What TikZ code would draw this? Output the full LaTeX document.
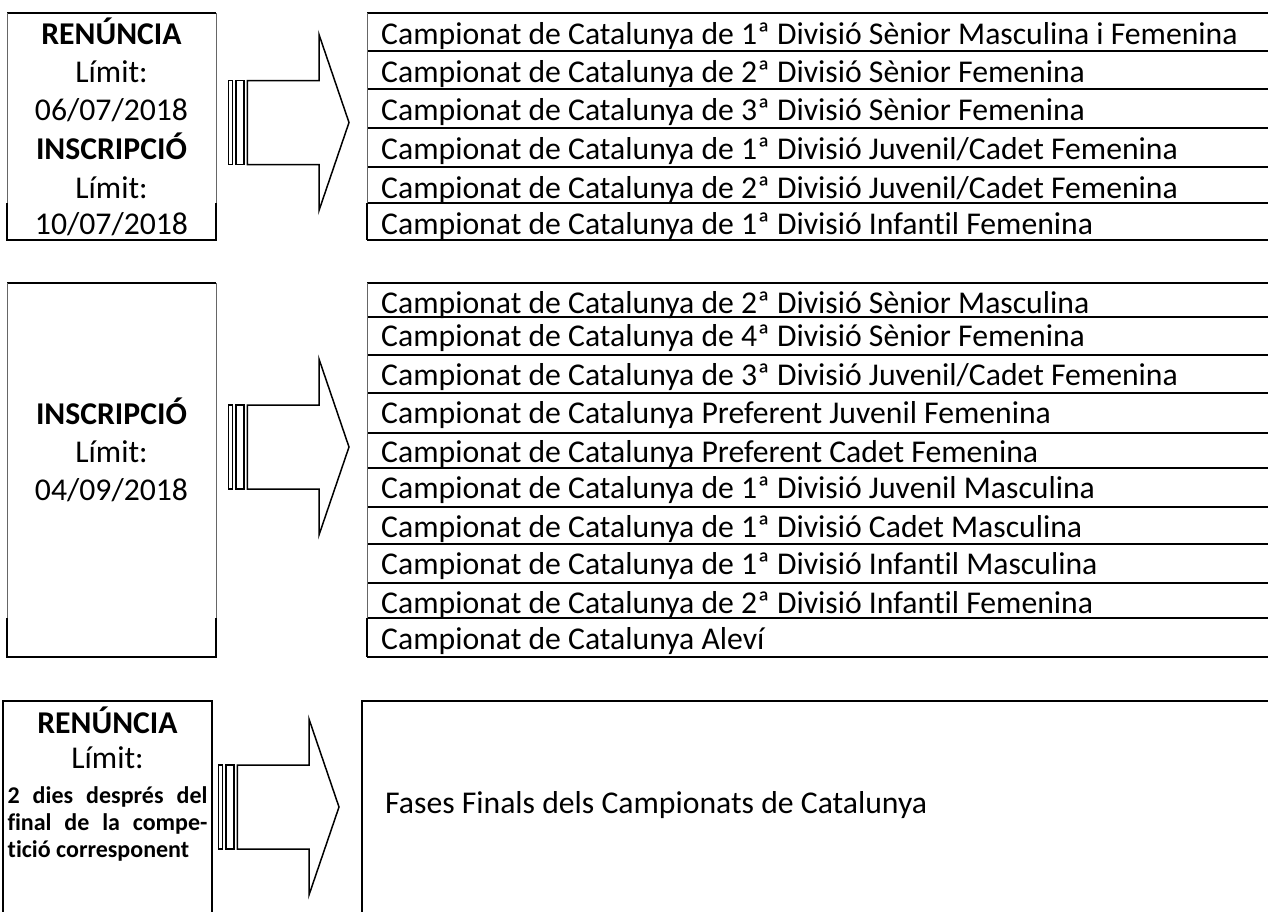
\documentclass[tikz,border=0pt]{standalone}
\usepackage{fontspec}
\setmainfont{Carlito}[Ligatures=NoCommon]

\newcommand{\rowfont}{\fontsize{31.7}{38}\selectfont}
\newcommand{\notefont}{\fontsize{24}{27}\selectfont\bfseries}

\tikzset{
	rowline/.style={line width=2.2pt},
	faint/.style={line width=1pt,black!60},
	shaft/.style={line width=1.5pt,line join=miter},
	entry/.style={anchor=base west,inner sep=0pt,font=\rowfont},
	lbl/.style={anchor=base,inner sep=0pt,font=\rowfont},
	lblbold/.style={lbl,font=\rowfont\bfseries},
	note/.style={anchor=base,inner sep=0pt,font=\notefont}
}

% striped arrow: #1 = left edge of the first stripe, #2 = height of its axis
\newcommand{\stripedarrow}[2]{%
	\begin{scope}[shift={(#1,#2)}]
		\draw[shaft] (0,-42) rectangle (4.4,42);
		\draw[shaft] (7.7,-42) rectangle (15.7,42);
		\draw[shaft] (19,-42) -- (90.7,-42) -- (90.7,-88) -- (120.7,0) -- (90.7,88) -- (90.7,42) -- (19,42) -- cycle;
	\end{scope}}

\begin{document}
\begin{tikzpicture}[x=1pt,y=-1pt]
			\useasboundingbox (0,0) rectangle (1268,911);

			% first block
			\draw[rowline] (7,13) -- (216,13);
			\draw[faint] (7,13) -- (7,203) (216,13) -- (216,203);
			\draw[rowline] (7,203) -- (7,240) -- (216,240) -- (216,203);
			\node[lblbold] (renA) at (111.5,44) {RENÚNCIA};
			\node[lbl] (limA1) at (111.5,82) {Límit:};
			\node[lbl] (dateA1) at (111.5,120) {06/07/2018};
			\node[lblbold] (insA) at (111.5,159) {INSCRIPCIÓ};
			\node[lbl] (limA2) at (111.5,198) {Límit:};
			\node[lbl] (dateA2) at (111.5,234) {10/07/2018};

			\stripedarrow{228.3}{122.5}

			\foreach \y in {13,51,89,128,167,203,240}
				\draw[rowline] (367,\y) -- (1268,\y);
			\draw[faint] (367,13) -- (367,203);
			\draw[rowline] (367,203) -- (367,240);
			\node[entry] (catA1) at (381,44) {Campionat de Catalunya de 1ª Divisió Sènior Masculina i Femenina};
			\node[entry] (catA2) at (381,82) {Campionat de Catalunya de 2ª Divisió Sènior Femenina};
			\node[entry] (catA3) at (381,120) {Campionat de Catalunya de 3ª Divisió Sènior Femenina};
			\node[entry] (catA4) at (381,159) {Campionat de Catalunya de 1ª Divisió Juvenil/Cadet Femenina};
			\node[entry] (catA5) at (381,198) {Campionat de Catalunya de 2ª Divisió Juvenil/Cadet Femenina};
			\node[entry] (catA6) at (381,234) {Campionat de Catalunya de 1ª Divisió Infantil Femenina};

			% second block
			\draw[rowline] (7,283) -- (216,283);
			\draw[faint] (7,283) -- (7,618) (216,283) -- (216,618);
			\draw[rowline] (7,618) -- (7,657) -- (216,657) -- (216,618);
			\node[lblbold] (insB) at (111.5,424) {INSCRIPCIÓ};
			\node[lbl] (limB) at (111.5,462) {Límit:};
			\node[lbl] (dateB) at (111.5,500) {04/09/2018};

			\stripedarrow{228.3}{447}

			\foreach \y in {283,317,355,393,433,468,507,544,583,618,657}
				\draw[rowline] (367,\y) -- (1268,\y);
			\draw[faint] (367,283) -- (367,618);
			\draw[rowline] (367,618) -- (367,657);
			\node[entry] (catB1) at (381,313) {Campionat de Catalunya de 2ª Divisió Sènior Masculina};
			\node[entry] (catB2) at (381,346) {Campionat de Catalunya de 4ª Divisió Sènior Femenina};
			\node[entry] (catB3) at (381,385) {Campionat de Catalunya de 3ª Divisió Juvenil/Cadet Femenina};
			\node[entry] (catB4) at (381,423) {Campionat de Catalunya Preferent Juvenil Femenina};
			\node[entry] (catB5) at (381,462) {Campionat de Catalunya Preferent Cadet Femenina};
			\node[entry] (catB6) at (381,498) {Campionat de Catalunya de 1ª Divisió Juvenil Masculina};
			\node[entry] (catB7) at (381,537) {Campionat de Catalunya de 1ª Divisió Cadet Masculina};
			\node[entry] (catB8) at (381,574) {Campionat de Catalunya de 1ª Divisió Infantil Masculina};
			\node[entry] (catB9) at (381,613) {Campionat de Catalunya de 2ª Divisió Infantil Femenina};
			\node[entry] (catB10) at (381,649) {Campionat de Catalunya Aleví};

			% third block
			\draw[rowline] (3,915) -- (3,701) -- (212,701) -- (212,915);
			\node[lblbold] (renC) at (107.5,733) {RENÚNCIA};
			\node[lbl] (limC) at (107.5,768) {Límit:};
			\node[note] (noteC1) at (107.5,803) {\makebox[200pt][s]{2 dies després del}};
			\node[note] (noteC2) at (107.5,830) {\makebox[200pt][s]{final de la compe-}};
			\node[note,anchor=base west] (noteC3) at (7.5,857) {tició corresponent};

			\stripedarrow{218.3}{807}

			\draw[rowline] (362,915) -- (362,701) -- (1268,701);
			\node[entry] (fases) at (385,813) {Fases Finals dels Campionats de Catalunya};

		\end{tikzpicture}
\end{document}
